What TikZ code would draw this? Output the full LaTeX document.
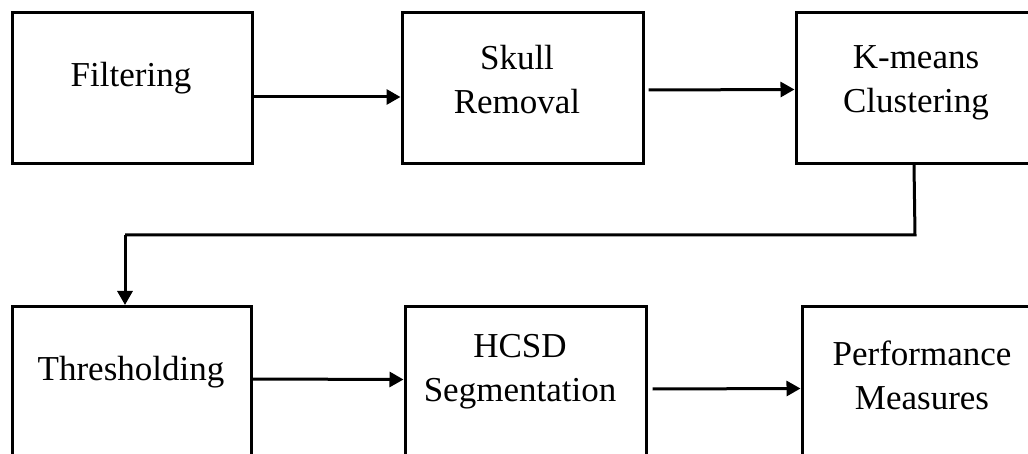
\documentclass[tikz,border=0pt]{standalone}
\usepackage{fontspec}
\setmainfont{Liberation Serif}
\usetikzlibrary{arrows.meta}
\begin{document}
\begin{tikzpicture}[x=1pt,y=-1pt,
  box/.style={draw,line width=3pt,minimum width=#1,minimum height=151pt,inner sep=0pt},
  lbl/.style={align=center,font=\fontsize{35}{44}\selectfont,inner sep=0pt},
  arr/.style={line width=3pt,-{Triangle[length=14pt,width=15pt]}},
  conn/.style={line width=3pt,line join=miter}]
\useasboundingbox (0,0) rectangle (1028,454);
% top row
\node[box=240pt] (F) at (132,88.5) {};
\node[box=241pt] (S) at (522.5,88.5) {};
\node[box=236pt] (K) at (914,88) {};
% bottom row
\node[box=239pt] (T) at (131.5,382) {};
\node[box=241pt] (H) at (525.5,382.5) {};
\node[box=232pt] (P) at (918,382) {};
% labels
\node[lbl] (tF) at (131,78) {Filtering};
\node[lbl] (tS) at (517,80) {Skull\\Removal};
\node[lbl] (tK) at (916,83) {K-means\\Clustering};
\node[lbl] (tT) at (131,372) {Thresholding};
\node[lbl] (tH) at (520,372) {HCSD\\Segmentation};
\node[lbl] (tP) at (922,375) {Performance\\Measures};
% connectors
\draw[arr] ([yshift=-8.5pt]F.east) -- ([yshift=-8.5pt]S.west);
\draw[arr] ([xshift=4pt,yshift=-1.5pt]S.east) -- ([yshift=-1.5pt]K.west);
\coordinate (c1) at (915,235);
\coordinate (c2) at (125,235);
\draw[conn] (K.south) -- (c1) -- (c2);
\draw[arr] (c2) -- ([xshift=-6.5pt]T.north);
\draw[arr] ([yshift=3pt]T.east) -- ([yshift=3pt]H.west);
\draw[arr] ([xshift=5pt,yshift=-6.5pt]H.east) -- ([yshift=-6.5pt]P.west);
\end{tikzpicture}
\end{document}
